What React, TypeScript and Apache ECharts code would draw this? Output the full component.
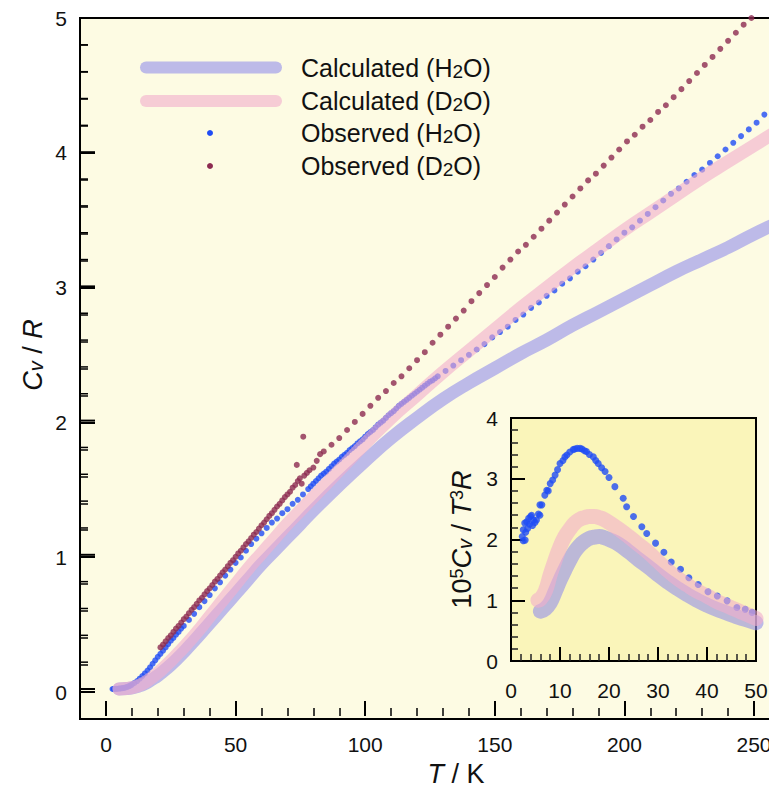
import React, { useEffect, useRef } from "react";
import * as echarts from "echarts";

const FONT = '"Liberation Sans", Arial, Helvetica, sans-serif';
const LAV = "#9390EB";
const PINK = "#F1AECC";
const BLUE = "#1F4CF5";
const MAROON = "#8C2A50";
const TXT = "#111111";

// main Cv/R axis tick values
const Y_MAJOR = [0, 1, 2, 3, 4, 5];
const Y_MINOR = [0.2, 0.4, 0.6, 0.8, 1.2, 1.4, 1.6, 1.8, 2.2, 2.4, 2.6, 2.8, 3.2, 3.4, 3.6, 3.8, 4.2, 4.4, 4.6, 4.8];

// ---- main plot: calculated Cv/R vs T ----
const calcH2O: [number, number][] = [
  [5, 0.0], [8, 0.003], [10, 0.008], [12, 0.018], [15, 0.04], [18, 0.075], [20, 0.1], [22, 0.13],
  [25, 0.18], [28, 0.235], [30, 0.275], [35, 0.38], [40, 0.49], [45, 0.6], [50, 0.71], [55, 0.82],
  [60, 0.93], [65, 1.03], [70, 1.13], [75, 1.23], [80, 1.33], [90, 1.52], [100, 1.7], [110, 1.87],
  [120, 2.02], [130, 2.16], [140, 2.28], [150, 2.39], [160, 2.5], [170, 2.6], [180, 2.71], [190, 2.81],
  [200, 2.91], [210, 3.01], [220, 3.11], [230, 3.2], [240, 3.29], [250, 3.39], [260, 3.48],
];
const calcD2O: [number, number][] = [
  [5, 0.0], [8, 0.004], [10, 0.01], [12, 0.022], [15, 0.05], [18, 0.09], [20, 0.12], [22, 0.155],
  [25, 0.21], [28, 0.27], [30, 0.31], [35, 0.42], [40, 0.54], [45, 0.66], [50, 0.78], [55, 0.9],
  [60, 1.01], [65, 1.12], [70, 1.23], [75, 1.33], [80, 1.43], [90, 1.63], [100, 1.83], [110, 2.02],
  [120, 2.19], [130, 2.36], [140, 2.52], [150, 2.68], [160, 2.84], [170, 2.99], [180, 3.14], [190, 3.28],
  [200, 3.42], [210, 3.55], [220, 3.68], [230, 3.81], [240, 3.93], [250, 4.05], [260, 4.17],
];

// ---- main plot: observed Cv/R vs T ----
const obsH2O: [number, number][] = [
  [2.5, 0.0], [3, 0.0], [3.5, 0.001], [4, 0.001], [4.5, 0.002], [5, 0.003], [5.5, 0.004], [6, 0.005],
  [6.5, 0.007], [7, 0.009], [7.5, 0.011], [8, 0.014], [8.5, 0.018], [9, 0.022], [9.5, 0.027], [10, 0.033],
  [11, 0.045], [12, 0.059], [13, 0.077], [14, 0.096], [15, 0.116], [16, 0.138], [17, 0.162], [18, 0.188],
  [19, 0.214], [20, 0.24], [21, 0.262], [22, 0.285], [23, 0.31], [24, 0.335], [25, 0.36], [26, 0.38],
  [27, 0.405], [28, 0.425], [29, 0.45], [30, 0.47], [32, 0.515], [34, 0.56], [36, 0.61], [38, 0.655],
  [40, 0.7], [42, 0.75], [44, 0.795], [46, 0.845], [48, 0.89], [50, 0.94], [52, 0.98], [54, 1.03],
  [56, 1.08], [58, 1.12], [60, 1.16], [62, 1.2], [64, 1.24], [66, 1.27], [68, 1.31], [70, 1.34],
  [72, 1.38], [74, 1.41], [76, 1.45], [78, 1.49], [79, 1.51], [80, 1.53], [81, 1.55], [82, 1.57],
  [83, 1.59], [84, 1.605], [85, 1.62], [86, 1.64], [87, 1.66], [88, 1.68], [89, 1.695], [90, 1.71],
  [91, 1.73], [92, 1.745], [93, 1.76], [94, 1.78], [95, 1.795], [96, 1.81], [97, 1.83], [98, 1.845],
  [99, 1.86], [100, 1.88], [101, 1.9], [102, 1.915], [103, 1.93], [104, 1.95], [105, 1.97], [106, 1.985],
  [107, 2.0], [108, 2.02], [109, 2.04], [110, 2.055], [111, 2.07], [112, 2.09], [113, 2.11], [114, 2.125],
  [115, 2.14], [116, 2.155], [117, 2.17], [118, 2.185], [119, 2.2], [120, 2.215], [121, 2.23], [122, 2.245],
  [123, 2.26], [124, 2.275], [125, 2.29], [126, 2.3], [127, 2.315], [128, 2.33], [131, 2.37], [134, 2.41],
  [137, 2.45], [140, 2.49], [143, 2.53], [146, 2.57], [149, 2.62], [152, 2.66], [155, 2.7], [158, 2.75],
  [161, 2.79], [164, 2.84], [167, 2.88], [170, 2.93], [173, 2.97], [176, 3.02], [179, 3.06], [182, 3.11],
  [185, 3.15], [188, 3.2], [191, 3.25], [194, 3.3], [197, 3.35], [200, 3.4], [203, 3.44], [206, 3.49],
  [209, 3.54], [212, 3.59], [215, 3.64], [218, 3.69], [221, 3.73], [224, 3.78], [227, 3.83], [230, 3.87],
  [233, 3.92], [236, 3.97], [239, 4.02], [242, 4.07], [245, 4.12], [248, 4.17], [251, 4.22], [254, 4.28],
  [257, 4.33],
];
const obsD2O: [number, number][] = [
  [21, 0.31], [22, 0.33], [23, 0.355], [24, 0.38], [25, 0.4], [26, 0.425], [27, 0.45], [28, 0.47],
  [29, 0.495], [30, 0.52], [31, 0.54], [32, 0.565], [33, 0.59], [34, 0.61], [35, 0.635], [36, 0.66],
  [37, 0.68], [38, 0.705], [39, 0.73], [40, 0.75], [41, 0.775], [42, 0.8], [43, 0.82], [44, 0.845],
  [45, 0.87], [46, 0.89], [47, 0.915], [48, 0.94], [49, 0.96], [50, 0.985], [51, 1.01], [52, 1.03],
  [53, 1.055], [54, 1.08], [55, 1.1], [56, 1.125], [57, 1.15], [58, 1.17], [59, 1.195], [60, 1.22],
  [61, 1.24], [62, 1.265], [63, 1.29], [64, 1.31], [65, 1.335], [66, 1.36], [67, 1.38], [68, 1.405],
  [69, 1.43], [70, 1.45], [71, 1.47], [72, 1.5], [73, 1.52], [73.6, 1.67], [74, 1.55], [74.8, 1.57],
  [75.5, 1.53], [76.1, 1.88], [76.5, 1.59], [77.5, 1.61], [78.5, 1.63], [80, 1.65], [81.3, 1.7], [82.6, 1.75],
  [84, 1.77], [87, 1.82], [90, 1.87], [93, 1.93], [96, 1.99], [99, 2.05], [102, 2.11], [105, 2.17],
  [108, 2.22], [111, 2.28], [114, 2.33], [117, 2.39], [120, 2.45], [123, 2.51], [126, 2.58], [129, 2.64],
  [132, 2.7], [135, 2.76], [138, 2.82], [141, 2.89], [144, 2.95], [147, 3.01], [150, 3.07], [153, 3.14],
  [156, 3.2], [159, 3.26], [162, 3.31], [165, 3.37], [168, 3.43], [171, 3.49], [174, 3.55], [177, 3.61],
  [180, 3.67], [183, 3.73], [186, 3.79], [189, 3.84], [192, 3.9], [195, 3.96], [198, 4.02], [201, 4.08],
  [204, 4.13], [207, 4.19], [210, 4.24], [213, 4.3], [216, 4.35], [219, 4.41], [222, 4.47], [225, 4.53],
  [228, 4.59], [231, 4.65], [234, 4.71], [237, 4.77], [240, 4.83], [243, 4.89], [246, 4.95], [249, 5.0],
];

// ---- inset: 10^5 Cv / T^3 R vs T ----
const insetCalcH2O: [number, number][] = [
  [6, 0.82], [7, 0.86], [8, 0.96], [9, 1.14], [10, 1.33], [11, 1.5], [12, 1.66], [13, 1.8], [14, 1.9],
  [15, 1.97], [16, 2.02], [17, 2.04], [18, 2.05], [19, 2.03], [20, 2.0], [22, 1.92], [24, 1.8], [26, 1.67],
  [28, 1.55], [30, 1.42], [32, 1.3], [34, 1.19], [36, 1.09], [38, 1.0], [40, 0.92], [42, 0.85], [44, 0.79],
  [46, 0.73], [48, 0.68], [50, 0.63],
];
const insetCalcD2O: [number, number][] = [
  [5.5, 1.0], [6, 1.02], [7, 1.15], [8, 1.42], [9, 1.66], [10, 1.88], [11, 2.05], [12, 2.17], [13, 2.27],
  [14, 2.33], [15, 2.36], [16, 2.38], [17, 2.38], [18, 2.36], [19, 2.33], [20, 2.28], [22, 2.17], [24, 2.05],
  [26, 1.92], [28, 1.79], [30, 1.64], [32, 1.49], [34, 1.36], [36, 1.25], [38, 1.15], [40, 1.07], [42, 0.98],
  [44, 0.91], [46, 0.84], [48, 0.77], [50, 0.7],
];
const insetObsH2O: [number, number][] = [
  [2.3, 2.05], [2.5, 1.98], [2.5, 2.16], [2.8, 2.27], [2.9, 1.99], [3.0, 2.12], [3.2, 2.29], [3.4, 2.18],
  [3.6, 2.35], [3.8, 2.25], [4.0, 2.38], [4.2, 2.4], [4.4, 2.23], [4.6, 2.32], [4.9, 2.28], [5.2, 2.32],
  [5.6, 2.42], [5.9, 2.4], [5.9, 2.57], [6.3, 2.57], [6.9, 2.73], [7.3, 2.81], [7.6, 2.8], [8.0, 2.92],
  [8.5, 2.98], [9.0, 3.06], [9.5, 3.15], [10.0, 3.25], [10.6, 3.3], [11.0, 3.36], [11.4, 3.39], [12.0, 3.44],
  [12.7, 3.48], [13.0, 3.49], [13.5, 3.5], [14.1, 3.5], [14.5, 3.49], [15.0, 3.46], [15.4, 3.45], [16.0, 3.4],
  [16.8, 3.36], [17.3, 3.3], [17.8, 3.25], [18.5, 3.18], [19.2, 3.12], [20.0, 3.02], [21.2, 2.87], [22.9, 2.68],
  [23.6, 2.54], [25.0, 2.38], [26.7, 2.21], [27.7, 2.1], [29.5, 1.94], [31.2, 1.79], [32.7, 1.63], [34.6, 1.51],
  [36.3, 1.37], [38.2, 1.26], [40.2, 1.14], [42.1, 1.07], [44.1, 0.99], [46.1, 0.88], [47.8, 0.85], [49.2, 0.8],
];

const italic = (size: number) => ({ fontStyle: "italic", fontFamily: FONT, fontSize: size, color: TXT });
const labelStyle = { fontSize: 21, fontFamily: FONT, color: TXT };

const legendGraphic: any[] = [
  { type: "line", shape: { x1: 146, y1: 67.5, x2: 276, y2: 67.5 }, style: { stroke: LAV, lineWidth: 12, lineCap: "round", opacity: 0.6 }, silent: true },
  { type: "line", shape: { x1: 146, y1: 101, x2: 276, y2: 101 }, style: { stroke: PINK, lineWidth: 12, lineCap: "round", opacity: 0.6 }, silent: true },
  { type: "circle", shape: { cx: 210, cy: 133, r: 3 }, style: { fill: BLUE }, silent: true },
  { type: "circle", shape: { cx: 210, cy: 166, r: 3 }, style: { fill: MAROON }, silent: true },
  ...[
    { y: 68, t: "Calculated (H{s|2}O)" },
    { y: 101, t: "Calculated (D{s|2}O)" },
    { y: 133, t: "Observed (H{s|2}O)" },
    { y: 166, t: "Observed (D{s|2}O)" },
  ].map((e) => ({
    type: "text", x: 301, y: e.y, silent: true,
    style: {
      text: e.t, fill: TXT, fontFamily: FONT, fontSize: 25, verticalAlign: "middle", align: "left",
      rich: { s: { fontFamily: FONT, fontSize: 19, fill: TXT, verticalAlign: "bottom" } },
    },
  })),
];

// main plot scale: T=0 at x=106, 2.592 px/K; Cv=0 at y=692, 134.8 px/unit
const option: any = {
  animation: false,
  backgroundColor: "transparent",
  grid: [
    { left: 106, top: 18, width: 699.84, height: 674, show: false },
    { left: 511, top: 418, width: 245, height: 243, show: true, backgroundColor: "#FAF5BA", borderColor: "#000", borderWidth: 2 },
    { left: 80, top: 18, width: 20, height: 674, show: true, backgroundColor: "transparent", borderWidth: 0 },
  ],
  xAxis: [
    {
      gridIndex: 0, type: "value", min: 0, max: 270, interval: 50, position: "bottom", offset: 27, z: 5,
      axisLine: { show: false, onZero: false },
      axisTick: { show: true, inside: true, length: 15, lineStyle: { color: "#000", width: 2 } },
      minorTick: { show: true, splitNumber: 5, length: 8, lineStyle: { color: "#000", width: 1.5 } },
      axisLabel: { ...labelStyle, margin: 18, showMaxLabel: false },
      splitLine: { show: false },
      name: "{i|T} / K", nameLocation: "middle", nameGap: 44,
      nameTextStyle: { fontFamily: FONT, fontSize: 27, color: TXT, rich: { i: italic(27) } },
    },
    {
      gridIndex: 1, type: "value", min: 0, max: 50, interval: 10, position: "bottom",
      axisLine: { show: true, onZero: false, lineStyle: { color: "#000", width: 2 } },
      axisTick: { show: true, inside: true, length: 14, lineStyle: { color: "#000", width: 2 } },
      minorTick: { show: true, splitNumber: 5, length: 7, lineStyle: { color: "#222", width: 1.5 } },
      axisLabel: { ...labelStyle, margin: 19 },
      splitLine: { show: false },
    },
    { gridIndex: 2, type: "value", min: 0, max: 1, show: false },
  ],
  yAxis: [
    { gridIndex: 0, type: "value", min: 0, max: 5, show: false },
    {
      gridIndex: 1, type: "value", min: 0, max: 4, interval: 1, position: "left",
      axisLine: { show: true, onZero: false, lineStyle: { color: "#000", width: 2 } },
      axisTick: { show: true, inside: true, length: 14, lineStyle: { color: "#000", width: 2 } },
      minorTick: { show: true, splitNumber: 5, length: 7, lineStyle: { color: "#222", width: 1.5 } },
      axisLabel: { ...labelStyle, margin: 13 },
      splitLine: { show: false },
      name: "10{p|5}{i|C}{s|v} / {i|T}{p|3}{i|R}", nameLocation: "middle", nameRotate: 90, nameGap: 36,
      nameTextStyle: {
        fontFamily: FONT, fontSize: 27, color: TXT,
        rich: {
          i: italic(27),
          s: { ...italic(20), verticalAlign: "bottom" },
          p: { fontFamily: FONT, fontSize: 18, color: TXT, verticalAlign: "top" },
        },
      },
    },
    {
      gridIndex: 2, type: "value", min: 0, max: 5, interval: 1, position: "left",
      axisLine: { show: true, onZero: false, lineStyle: { color: "#000", width: 2 } },
      axisTick: { show: true, inside: true, length: 15, lineStyle: { color: "#000", width: 2 } },
      minorTick: { show: true, splitNumber: 5, length: 8, lineStyle: { color: "#000", width: 1.5 } },
      axisLabel: { ...labelStyle, margin: 13 },
      splitLine: { show: false },
      name: "{i|C}{s|v} / {i|R}", nameLocation: "middle", nameRotate: 90, nameGap: 34,
      nameTextStyle: {
        fontFamily: FONT, fontSize: 27, color: TXT,
        rich: { i: italic(27), s: { ...italic(20), verticalAlign: "bottom" } },
      },
    },
  ],
  graphic: legendGraphic,
  series: [
    {
      type: "line", name: "Calculated (H2O)", xAxisIndex: 0, yAxisIndex: 0, data: calcH2O, clip: false,
      showSymbol: false, smooth: true, silent: true, emphasis: { disabled: true },
      lineStyle: { color: LAV, width: 13, opacity: 0.6, cap: "round", join: "round" },
    },
    {
      type: "line", name: "Calculated (D2O)", xAxisIndex: 0, yAxisIndex: 0, data: calcD2O, clip: false,
      showSymbol: false, smooth: true, silent: true, emphasis: { disabled: true },
      lineStyle: { color: PINK, width: 13, opacity: 0.6, cap: "round", join: "round" },
    },
    {
      type: "scatter", name: "Observed (H2O)", xAxisIndex: 0, yAxisIndex: 0, data: obsH2O, clip: false,
      symbolSize: 6, silent: true, itemStyle: { color: BLUE },
    },
    {
      type: "scatter", name: "Observed (D2O)", xAxisIndex: 0, yAxisIndex: 0, data: obsD2O, clip: false,
      symbolSize: 6, silent: true, itemStyle: { color: MAROON },
    },
    {
      type: "line", name: "Inset calc H2O", xAxisIndex: 1, yAxisIndex: 1, data: insetCalcH2O,
      showSymbol: false, smooth: true, silent: true, emphasis: { disabled: true },
      lineStyle: { color: LAV, width: 15, opacity: 0.6, cap: "round", join: "round" },
    },
    {
      type: "line", name: "Inset calc D2O", xAxisIndex: 1, yAxisIndex: 1, data: insetCalcD2O,
      showSymbol: false, smooth: true, silent: true, emphasis: { disabled: true },
      lineStyle: { color: PINK, width: 15, opacity: 0.6, cap: "round", join: "round" },
    },
    {
      type: "scatter", name: "Inset obs H2O", xAxisIndex: 1, yAxisIndex: 1, data: insetObsH2O,
      symbolSize: 7, silent: true, itemStyle: { color: BLUE },
    },
  ],
};

export default function App() {
  const ref = useRef<HTMLDivElement>(null);
  useEffect(() => {
    if (!ref.current) return;
    const chart = echarts.init(ref.current, null, { renderer: "svg" });
    chart.setOption(option);
    // Cv/R tick marks on the frame's left edge, placed through the Cv/R axis scale
    const tickLine = (v: number, len: number, w: number) => {
      const y = chart.convertToPixel({ yAxisIndex: 0 }, v) as number;
      return {
        type: "line", silent: true, z: 10,
        shape: { x1: 80, y1: y, x2: 80 + len, y2: y },
        style: { stroke: "#000", lineWidth: w },
      };
    };
    chart.setOption({
      graphic: [
        ...legendGraphic,
        ...Y_MAJOR.map((v) => tickLine(v, 15, 2)),
        ...Y_MINOR.map((v) => tickLine(v, 8, 1.5)),
      ],
    });
    return () => chart.dispose();
  }, []);
  return (
    <div style={{ position: "fixed", left: 0, top: 0, width: 769, height: 792, overflow: "hidden", background: "#fff" }}>
      {/* plot panel: cream background with black frame (main axes' box) */}
      <div
        style={{
          position: "absolute", left: 79, top: 17, width: 762, height: 703, boxSizing: "border-box",
          background: "#FDFBE3", border: "2px solid #000",
        }}
      />
      <div ref={ref} style={{ position: "absolute", left: 0, top: 0, width: 840, height: 792 }} />
    </div>
  );
}
